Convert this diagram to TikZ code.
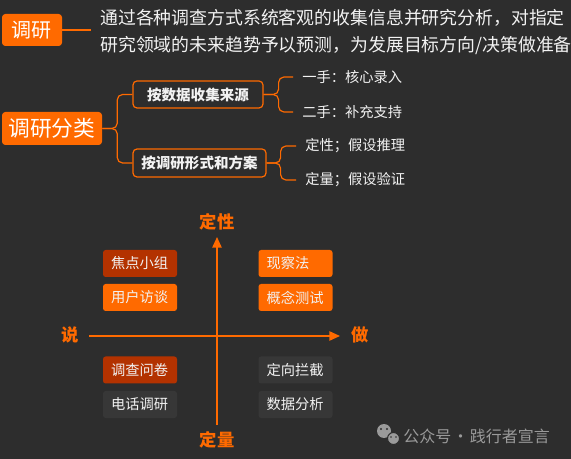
\documentclass[tikz,border=0pt]{standalone}
\usepackage{fontspec}
\setmainfont{Noto Sans CJK SC}
\usetikzlibrary{arrows.meta}
\definecolor{bg}{HTML}{2D2D2D}
\definecolor{org}{HTML}{FF6A00}
\definecolor{dred}{HTML}{B33200}
\definecolor{gbox}{HTML}{373737}
\definecolor{txt}{HTML}{F2F2F2}
\definecolor{wm}{HTML}{9A9A9A}
\begin{document}
\begin{tikzpicture}[x=0.75pt,y=-0.75pt,
  hbox/.style={fill=org, rounded corners=2.5pt, text=white, inner sep=0, align=center},
  tbox/.style={draw=org, line width=0.9pt, fill=bg, rounded corners=3pt, text=txt,
    font=\fontsize{10.9}{13}\selectfont\bfseries, inner sep=0},
  leaf/.style={text=txt, font=\fontsize{10.7}{13}\selectfont, anchor=west, inner xsep=6.75pt, inner ysep=0},
  qbox/.style={rounded corners=2pt, text=txt, font=\fontsize{10.7}{13}\selectfont,
    text width=43.5pt, align=left, inner xsep=6pt, inner ysep=0, minimum height=20.25pt},
  alab/.style={text=org, font=\fontsize{13}{15}\selectfont\bfseries},
  conn/.style={draw=org, line width=0.9pt, rounded corners=4pt},
  axis/.style={draw=org, line width=1.2pt, -{Triangle[length=8pt,width=7pt]}}
]
\fill[bg] (0,0) rectangle (571,459);
\useasboundingbox (0,0) rectangle (571,459);

% header
\node[hbox, minimum width=45pt, minimum height=24pt, font=\fontsize{15}{17}\selectfont] (dy) at (32,30) {调研};
\node[anchor=west, align=left, text=txt, inner xsep=6.75pt, inner ysep=0,
  font=\fontsize{13.4}{20.25}\selectfont] (desc) at (91,32.5)
  {通过各种调查方式系统客观的收集信息并研究分析，对指定\\研究领域的未来趋势予以预测，为发展目标方向/决策做准备};
\draw[org, line width=0.9pt] (dy.east) -- (dy.east -| desc.west);

% tree
\node[hbox, minimum width=75pt, minimum height=24.75pt, font=\fontsize{16.3}{18}\selectfont] (root) at (52,128.5) {调研分类};
\node[tbox, minimum width=97.5pt, minimum height=20.25pt] (b1) at (198,94.5) {按数据收集来源};
\node[tbox, minimum width=99.75pt, minimum height=21pt] (b2) at (199.5,163) {按调研形式和方案};
\node[leaf] (l1) at (293,77) {一手：核心录入};
\node[leaf] (l2) at (293,112) {二手：补充支持};
\node[leaf] (l3) at (296,146) {定性；假设推理};
\node[leaf] (l4) at (296,180) {定量；假设验证};
\draw[conn] (root.east) -- ++(15,0) |- (b1.west);
\draw[conn] (root.east) -- ++(15,0) |- (b2.west);
\draw[conn] (b1.east) -- ++(15,0) |- (l1.west);
\draw[conn] (b1.east) -- ++(15,0) |- (l2.west);
\draw[conn] (b2.east) -- ++(14,0) |- (l3.west);
\draw[conn] (b2.east) -- ++(14,0) |- (l4.west);

% quadrant
\coordinate (vb) at (217,425);
\coordinate (vt) at (217,237);
\coordinate (hl) at (89,336);
\coordinate (hr) at (340,336);
\draw[axis] (vb) -- (vt);
\draw[axis] (hl) -- (hr);
\node[alab] (qt) at (217,222) {定性};
\node[alab] (qb) at (217,440) {定量};
\node[alab] (ql) at (70,335) {说};
\node[alab] (qr) at (360,335) {做};

\node[qbox, fill=dred] (q1) at (140,263.5) {焦点小组};
\node[qbox, fill=org]  (q2) at (140,297.5) {用户访谈};
\node[qbox, fill=org]  (q3) at (295.5,263.5) {现察法};
\node[qbox, fill=org]  (q4) at (295.5,297.5) {概念测试};
\node[qbox, fill=dred] (q5) at (140,370) {调查问卷};
\node[qbox, fill=gbox] (q6) at (140,404.5) {电话调研};
\node[qbox, fill=gbox] (q7) at (295.5,370) {定向拦截};
\node[qbox, fill=gbox] (q8) at (295.5,404.5) {数据分析};

% watermark
\fill[wm] (384,431) circle (7);
\fill[bg] (381,429) circle (1.1);
\fill[bg] (387,429) circle (1.1);
\filldraw[fill=wm, draw=bg, line width=0.8pt] (393.5,438.5) circle (6);
\fill[bg] (391,437) circle (0.9);
\fill[bg] (396,437) circle (0.9);
\node[anchor=west, text=wm, inner sep=0, font=\fontsize{12}{14}\selectfont] (wmt) at (403,436) {公众号\kern1pt·\kern1pt践行者宣言};
\end{tikzpicture}
\end{document}
